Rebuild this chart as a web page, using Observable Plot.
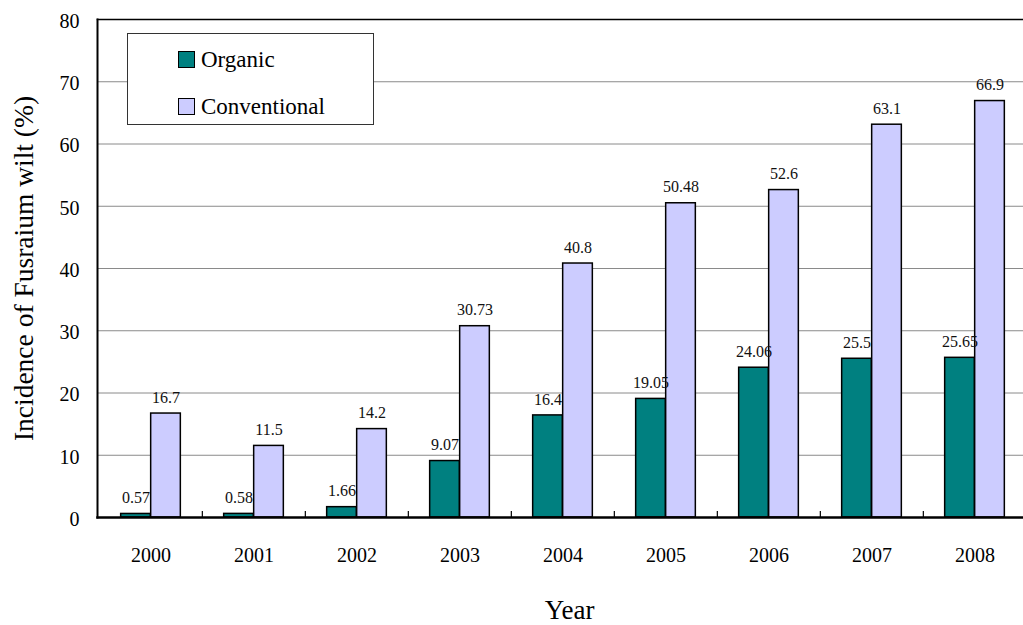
<!DOCTYPE html>
<html>
<head>
<meta charset="utf-8">
<script src="https://cdn.jsdelivr.net/npm/d3@7"></script>
<script src="https://cdn.jsdelivr.net/npm/@observablehq/plot@0.6"></script>
<style>
  body { margin: 0; background: #fff; }
  #chart { position: relative; width: 1023px; height: 625px; overflow: hidden;
           font-family: "Liberation Serif", "Times New Roman", serif; color: #000; }
  #chart svg { display: block; }
  #chart svg text { font-family: "Liberation Serif", "Times New Roman", serif; }
  .legend { position: absolute; left: 127px; top: 33px; width: 247px; height: 92px;
            box-sizing: border-box; border: 1px solid #333; background: #fff; }
  .legend .item { position: absolute; left: 50px; display: flex; align-items: center;
                  font-size: 23px; line-height: 1; white-space: nowrap; }
  .legend .swatch { width: 17px; height: 17px; border: 1.5px solid #000; margin-right: 6px; box-sizing: border-box; }
</style>
</head>
<body>
<div id="chart"></div>
<script>
// Incidence of Fusarium wilt by year, organic vs conventional fields
const years = ["2000", "2001", "2002", "2003", "2004", "2005", "2006", "2007", "2008"];
const organic = [0.57, 0.58, 1.66, 9.07, 16.4, 19.05, 24.06, 25.5, 25.65];
const conventional = [16.7, 11.5, 14.2, 30.73, 40.8, 50.48, 52.6, 63.1, 66.9];
const seriesNames = ["Organic", "Conventional"];
const seriesColors = ["#008080", "#ccccff"];
const yTicks = [0, 10, 20, 30, 40, 50, 60, 70, 80];
const yTitle = "Incidence of Fusraium wilt (%)";
const xTitle = "Year";

const serif = '"Liberation Serif", "Times New Roman", serif';

const rows = years.flatMap((year, i) => [
  {year, series: seriesNames[0], value: organic[i]},
  {year, series: seriesNames[1], value: conventional[i]}
]);
const orgRows = rows.filter(d => d.series === seriesNames[0]);
const convRows = rows.filter(d => d.series === seriesNames[1]);

// layout of the year bands; the last band runs slightly past the right edge
const left = 97, right = 1027;
const step = (right - left) / years.length;
const half = step / 2;
const barW = 30;

const chart = Plot.plot({
  width: 1023,
  height: 625,
  marginLeft: left,
  marginRight: 1023 - right,
  marginTop: 19,
  marginBottom: 108,
  style: {fontFamily: serif, fontSize: "20px", color: "#000", background: "#fff"},
  x: {domain: years, range: [left, right], padding: 0},
  y: {domain: [0, 80], range: [517, 19]},
  color: {domain: seriesNames, range: seriesColors},
  marks: [
    Plot.gridY(yTicks, {stroke: "#8a8a8a", strokeOpacity: 1, strokeWidth: 1}),
    Plot.barY(orgRows, {x: "year", y: "value", fill: "series", stroke: "#000", strokeWidth: 1.5,
                        insetLeft: half - barW, insetRight: half}),
    Plot.barY(convRows, {x: "year", y: "value", fill: "series", stroke: "#000", strokeWidth: 1.5,
                         insetLeft: half, insetRight: half - barW}),
    Plot.text(orgRows, {x: "year", y: "value", text: d => String(d.value), dx: -barW / 2, dy: -16,
                        lineAnchor: "middle", fontSize: 16, fontFamily: serif, fill: "#111"}),
    Plot.text(convRows, {x: "year", y: "value", text: d => String(d.value), dx: barW / 2, dy: -16,
                         lineAnchor: "middle", fontSize: 16, fontFamily: serif, fill: "#111"}),
    // small inward ticks on the year band boundaries
    Plot.ruleX(years.slice(1), {x: d => d, dx: -half, insetTop: 492, stroke: "#000", strokeWidth: 1.2}),
    Plot.frame({anchor: "top", stroke: "#000", strokeWidth: 1.5}),
    Plot.frame({anchor: "left", stroke: "#000", strokeWidth: 2}),
    Plot.frame({anchor: "bottom", stroke: "#000", strokeWidth: 2.5}),
    Plot.axisY(yTicks, {tickSize: 0, tickPadding: 18, label: null, fontSize: 20, fontFamily: serif, dy: 2}),
    Plot.axisX({tickSize: 0, tickPadding: 30, label: null, fontSize: 20, fontFamily: serif}),
    Plot.text([yTitle], {frameAnchor: "left", textAnchor: "middle", rotate: -90, dx: -73,
                         lineAnchor: "middle", fontSize: 27.5, fontFamily: serif}),
    Plot.text([xTitle], {frameAnchor: "bottom", textAnchor: "middle", dx: 7, dy: 93,
                         lineAnchor: "middle", fontSize: 27, fontFamily: serif})
  ]
});

const root = document.getElementById("chart");
root.appendChild(chart);

// legend box drawn over the grid
const legend = d3.select(root).append("div").attr("class", "legend");
const itemTops = [14, 61];
seriesNames.forEach((name, i) => {
  const item = legend.append("div").attr("class", "item").style("top", itemTops[i] + "px");
  item.append("div").attr("class", "swatch").style("background", chart.scale("color").apply(name));
  item.append("span").text(name);
});
</script>
</body>
</html>
